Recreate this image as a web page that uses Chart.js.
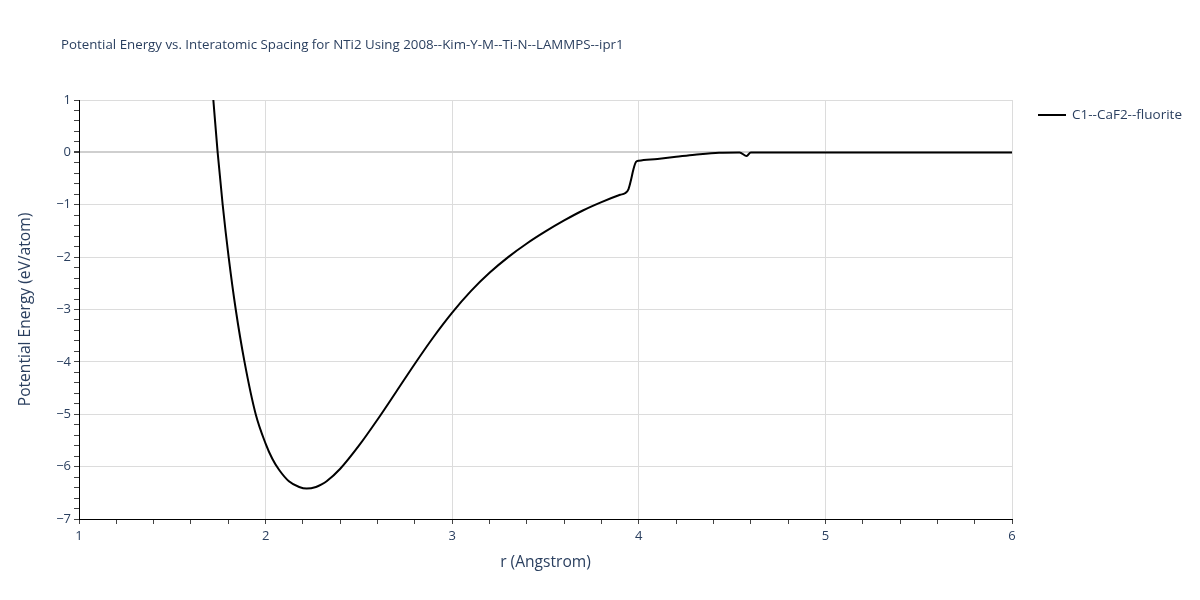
<!DOCTYPE html>
<html>
<head>
<meta charset="utf-8">
<script src="https://cdn.jsdelivr.net/npm/chart.js@4/dist/chart.umd.min.js"></script>
<style>
  body { margin: 0; background: #fff; }
  #wrap { width: 1200px; height: 600px; }
</style>
</head>
<body>
<div id="wrap"><canvas id="energyChart" width="1200" height="600"></canvas></div>
<script>
// Values
const chartTitle = 'Potential Energy vs. Interatomic Spacing for NTi2 Using 2008--Kim-Y-M--Ti-N--LAMMPS--ipr1';
const seriesName = 'C1--CaF2--fluorite';
const spacing = [1.70, 1.72, 1.743, 1.770, 1.802, 1.840, 1.887, 1.947, 2.0, 2.036, 2.072, 2.125, 2.18, 2.22,
  2.27, 2.3, 2.327, 2.4, 2.5, 2.6, 2.7, 2.8, 2.9, 3.0, 3.1, 3.2, 3.3, 3.4, 3.5, 3.6, 3.7, 3.8, 3.9,
  3.926, 3.945, 3.96, 3.97, 3.985, 4.0, 4.1, 4.2, 4.3, 4.43, 4.54, 4.578, 4.6, 5.0, 5.5, 6.0];
const energy = [1.9, 1.0, 0, -1, -2, -3, -4, -5, -5.56, -5.85, -6.06, -6.28, -6.39, -6.42,
  -6.39, -6.34, -6.28, -6.04, -5.60, -5.10, -4.57, -4.035, -3.525, -3.06, -2.65, -2.30, -2.00, -1.74, -1.51, -1.30, -1.11, -0.95, -0.81,
  -0.78, -0.7, -0.5, -0.34, -0.18, -0.16, -0.125, -0.085, -0.045, -0.005, 0, -0.07, 0, 0, 0, 0];
const xRange = [1, 6];
const yRange = [-7, 1];

const textColor = '#2a3f5f';
Chart.defaults.font.family = "'Open Sans', sans-serif";
Chart.defaults.color = textColor;

const points = spacing.map((x, i) => ({ x: x, y: energy[i] }));

function isWhole(v) {
  return Math.abs(v - Math.round(v)) < 1e-6;
}

// title and legend drawn by hand so they sit where plotly puts them
const extrasPlugin = {
  id: 'extras',
  afterDraw(chart) {
    const ctx = chart.ctx;
    ctx.save();
    ctx.fillStyle = textColor;
    ctx.font = "13.3px 'Open Sans', sans-serif";
    ctx.textBaseline = 'middle';
    ctx.textAlign = 'left';
    ctx.fillText(chartTitle, 61, 45);

    ctx.strokeStyle = '#000';
    ctx.lineWidth = 2;
    ctx.beginPath();
    ctx.moveTo(1038, 115);
    ctx.lineTo(1066, 115);
    ctx.stroke();
    ctx.font = "13.5px 'Open Sans', sans-serif";
    ctx.fillText(seriesName, 1072, 115);
    ctx.restore();
  }
};

const ctx = document.getElementById('energyChart').getContext('2d');
new Chart(ctx, {
  type: 'scatter',
  data: {
    datasets: [{
      label: seriesName,
      data: points,
      showLine: true,
      borderColor: '#000',
      borderWidth: 2,
      pointRadius: 0,
      cubicInterpolationMode: 'monotone',
      fill: false
    }]
  },
  options: {
    responsive: false,
    animation: false,
    layout: { padding: { left: 0, top: 100, right: 188, bottom: 0 } },
    plugins: {
      legend: { display: false },
      title: { display: false },
      tooltip: { enabled: false }
    },
    scales: {
      x: {
        type: 'linear',
        min: xRange[0],
        max: xRange[1],
        afterFit: (scale) => { scale.height = 81; },
        border: { color: '#000', width: 1 },
        grid: {
          color: (c) => (isWhole(c.tick.value) && c.tick.value !== xRange[0] ? '#dcdcdc' : 'transparent'),
          tickColor: '#444',
          tickLength: 5,
          drawTicks: true
        },
        ticks: {
          stepSize: 0.2,
          autoSkip: false,
          maxRotation: 0,
          padding: 4,
          font: { size: 13 },
          callback: (v) => (isWhole(v) ? String(Math.round(v)) : '')
        },
        title: {
          display: true,
          text: 'r (Angstrom)',
          font: { size: 15.6 },
          padding: { top: 4, bottom: 28 }
        }
      },
      y: {
        type: 'linear',
        min: yRange[0],
        max: yRange[1],
        afterFit: (scale) => { scale.width = 79; },
        border: { color: '#000', width: 1 },
        grid: {
          color: (c) => {
            if (!isWhole(c.tick.value) || c.tick.value === yRange[0]) return 'transparent';
            return Math.round(c.tick.value) === 0 ? '#cfcfcf' : '#dcdcdc';
          },
          lineWidth: (c) => (isWhole(c.tick.value) && Math.round(c.tick.value) === 0 ? 2 : 1),
          tickColor: '#444',
          tickLength: 5,
          drawTicks: true
        },
        ticks: {
          stepSize: 0.2,
          autoSkip: false,
          padding: 3,
          font: { size: 13 },
          callback: (v) => {
            if (!isWhole(v)) return '';
            const n = Math.round(v);
            return n < 0 ? '\u2212' + Math.abs(n) : String(n);
          }
        },
        title: {
          display: true,
          text: 'Potential Energy (eV/atom)',
          font: { size: 15.6 },
          padding: { top: 16, bottom: 0 }
        }
      }
    }
  },
  plugins: [extrasPlugin]
});
</script>
</body>
</html>
